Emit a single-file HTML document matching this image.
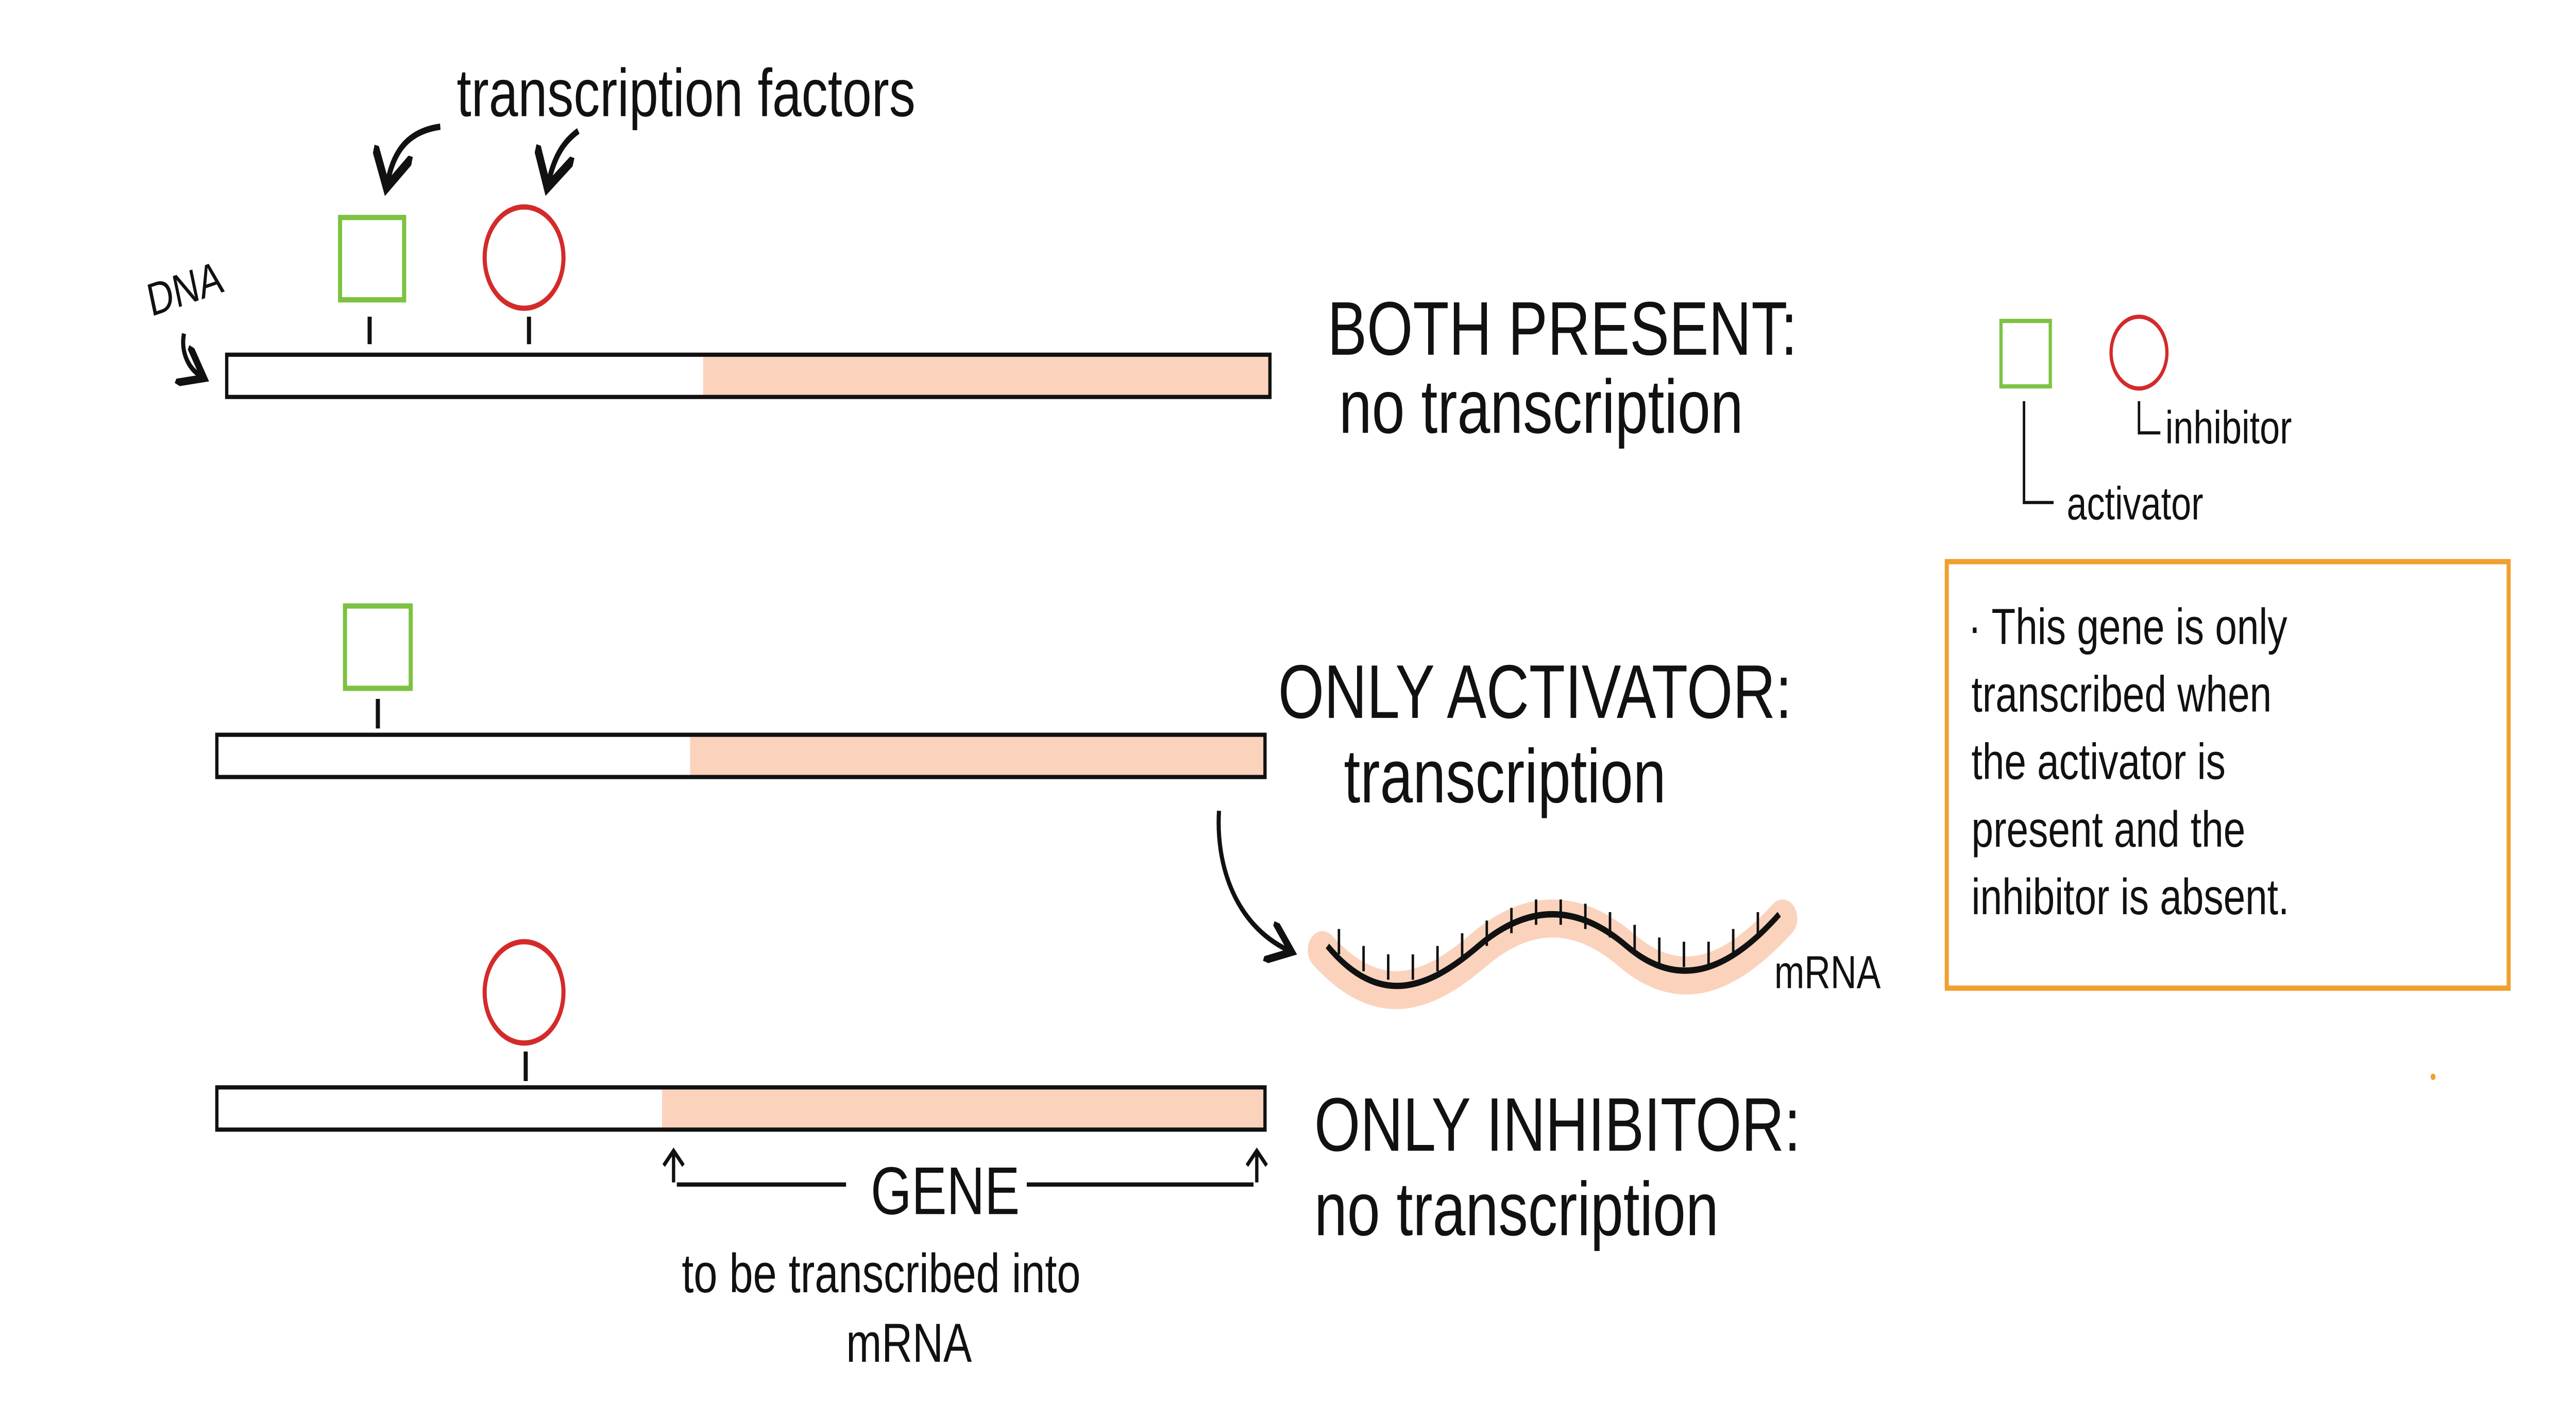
<!DOCTYPE html>
<html><head><meta charset="utf-8"><style>
html,body{margin:0;padding:0;background:#fff;overflow:hidden;width:100vw;height:100vh;}
svg{display:block;width:100vw;height:100vh;}
text{font-family:"Liberation Sans",sans-serif;fill:#111;}
</style></head><body>
<svg viewBox="0 0 1568 673" preserveAspectRatio="none">
<defs><marker id="ah" markerWidth="8" markerHeight="8" refX="5" refY="4" orient="auto"><path d="M0,0 L6,4 L0,8" fill="none" stroke="#111" stroke-width="1.5"/></marker></defs>
<rect width="1568" height="673" fill="#fff"/>
<text x="278" y="55" font-size="32">transcription factors</text>
<path d="M268,60 C250,62 240,70 236,86" fill="none" stroke="#111" stroke-width="3" marker-end="url(#ah)"/>
<path d="M352,62 C345,66 338,72 334,86" fill="none" stroke="#111" stroke-width="3" marker-end="url(#ah)"/>
<text x="92" y="150" font-size="22" transform="rotate(-15 92 150)">DNA</text>
<path d="M112,158 C110,166 114,174 122,178" fill="none" stroke="#111" stroke-width="2.5" marker-end="url(#ah)"/>
<g>
<rect x="207" y="103" width="39" height="39" fill="none" stroke="#7dc242" stroke-width="2.5"/>
<line x1="225" y1="150" x2="225" y2="163" stroke="#111" stroke-width="2.5"/>
<circle cx="319" cy="122" r="24" fill="none" stroke="#d42a2a" stroke-width="2.5"/>
<line x1="322" y1="150" x2="322" y2="163" stroke="#111" stroke-width="2.5"/>
<rect x="428" y="169" width="345" height="19" fill="#fbd3bd"/>
<rect x="138" y="168" width="635" height="20" fill="none" stroke="#111" stroke-width="2"/>
<text x="808" y="168" font-size="36">BOTH PRESENT:</text>
<text x="815" y="205" font-size="36">no transcription</text>
</g>
<g>
<rect x="210" y="287" width="40" height="39" fill="none" stroke="#7dc242" stroke-width="2.5"/>
<line x1="230" y1="331" x2="230" y2="345" stroke="#111" stroke-width="2.5"/>
<rect x="420" y="349" width="350" height="19" fill="#fbd3bd"/>
<rect x="132" y="348" width="638" height="20" fill="none" stroke="#111" stroke-width="2"/>
<text x="778" y="340" font-size="36">ONLY ACTIVATOR:</text>
<text x="818" y="380" font-size="36">transcription</text>
<path d="M742,384 C740,410 752,438 784,450" fill="none" stroke="#111" stroke-width="2.5" marker-end="url(#ah)"/>
<path d="M805,450 C840,480 870,470 900,450 C930,430 960,430 990,450 C1020,470 1050,465 1085,435" fill="none" stroke="#fbd3bd" stroke-width="18" stroke-linecap="round"/>
<path d="M808,448 C840,478 870,468 900,448 C930,428 960,428 990,448 C1020,468 1050,462 1083,433" fill="none" stroke="#111" stroke-width="3"/>
<path d="M815,440v12M830,448v12M845,452v12M860,452v12M875,448v12M890,442v12M905,436v12M920,430v12M935,426v12M950,426v12M965,428v12M980,432v12M995,438v12M1010,444v12M1025,446v12M1040,446v12M1055,440v12M1070,432v12" stroke="#111" stroke-width="1.5"/>
<text x="1080" y="468" font-size="22">mRNA</text>
</g>
<g>
<circle cx="319" cy="470" r="24" fill="none" stroke="#d42a2a" stroke-width="2.5"/>
<line x1="320" y1="498" x2="320" y2="512" stroke="#111" stroke-width="2.5"/>
<rect x="403" y="516" width="367" height="19" fill="#fbd3bd"/>
<rect x="132" y="515" width="638" height="20" fill="none" stroke="#111" stroke-width="2"/>
<text x="800" y="545" font-size="36">ONLY INHIBITOR:</text>
<text x="800" y="585" font-size="36">no transcription</text>
<path d="M410,560 V546 M404,552 L410,545 L416,552" fill="none" stroke="#111" stroke-width="2"/>
<path d="M765,560 V546 M759,552 L765,545 L771,552" fill="none" stroke="#111" stroke-width="2"/>
<line x1="412" y1="561" x2="515" y2="561" stroke="#111" stroke-width="2"/>
<line x1="625" y1="561" x2="763" y2="561" stroke="#111" stroke-width="2"/>
<text x="530" y="575" font-size="32">GENE</text>
<text x="415" y="612" font-size="26">to be transcribed into</text>
<text x="515" y="645" font-size="26">mRNA</text>
</g>
<g>
<rect x="1218" y="152" width="30" height="31" fill="none" stroke="#7dc242" stroke-width="2"/>
<circle cx="1302" cy="167" r="17" fill="none" stroke="#d42a2a" stroke-width="2"/>
<path d="M1302,190 V205 H1315" fill="none" stroke="#111" stroke-width="1.5"/>
<text x="1318" y="210" font-size="22">inhibitor</text>
<path d="M1232,190 V238 H1250" fill="none" stroke="#111" stroke-width="1.5"/>
<text x="1258" y="246" font-size="22">activator</text>
</g>
<g>
<rect x="1185" y="266" width="342" height="202" fill="none" stroke="#f0a030" stroke-width="2.5"/>
<text font-size="24">
<tspan x="1198" y="305">· This gene is only</tspan>
<tspan x="1200" y="337">transcribed when</tspan>
<tspan x="1200" y="369">the activator is</tspan>
<tspan x="1200" y="401">present and the</tspan>
<tspan x="1200" y="433">inhibitor is absent.</tspan>
</text>
</g>
<circle cx="1481" cy="510" r="1.5" fill="#f0a030"/>
</svg>
</body></html>
